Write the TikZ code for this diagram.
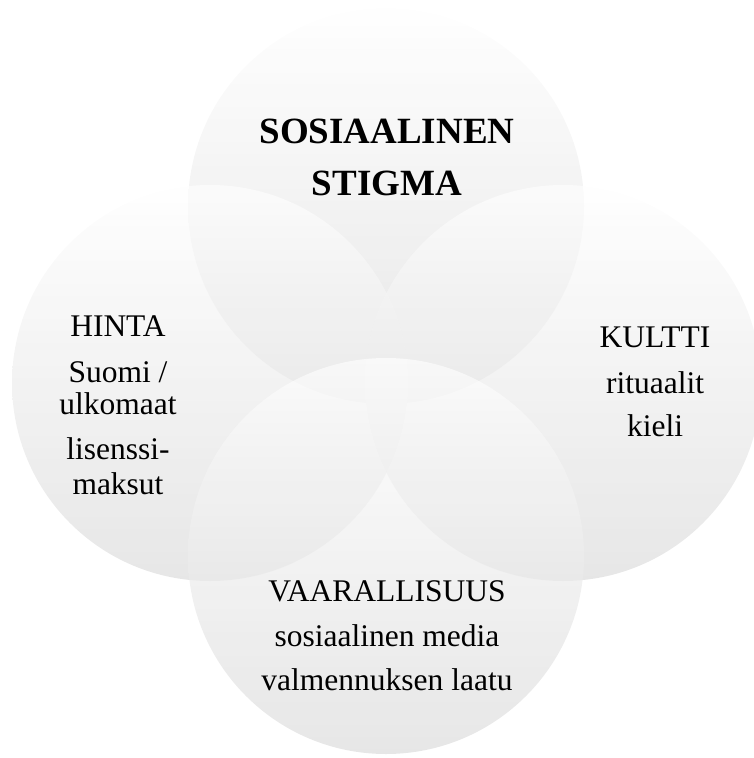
\documentclass[tikz,border=0pt]{standalone}
\usepackage{fontspec}
\setmainfont{Liberation Serif}
\definecolor{ringtop}{RGB}{254,254,254}
\definecolor{ringbot}{RGB}{220,220,220}
\begin{document}
\begin{tikzpicture}[x=1pt,y=-1pt,
  ring/.style={circle, inner sep=0pt, minimum size=396pt,
    top color=ringtop, bottom color=ringbot, fill opacity=0.7, draw=none},
  title/.style={anchor=base, font=\fontsize{37}{44}\selectfont\bfseries},
  label/.style={anchor=base, font=\fontsize{31.5}{38}\selectfont}]
  \useasboundingbox (0,0) rectangle (753,758);
  % four overlapping circles
  \node[ring] (top)    at (386,206) {};
  \node[ring] (left)   at (210,383) {};
  \node[ring] (right)  at (563,383) {};
  \node[ring] (bottom) at (386,556) {};
  % top circle
  \node[title] (t1) at (387,143) {SOSIAALINEN};
  \node[title] (t2) at (387,195) {STIGMA};
  % left circle
  \node[label] (l1) at (118,336) {HINTA};
  \node[label] (l2) at (118,382) {Suomi /};
  \node[label] (l3) at (118,414) {ulkomaat};
  \node[label] (l4) at (118,459) {lisenssi-};
  \node[label] (l5) at (118,494) {maksut};
  % right circle
  \node[label] (r1) at (655,347) {KULTTI};
  \node[label] (r2) at (655,393) {rituaalit};
  \node[label] (r3) at (655,436) {kieli};
  % bottom circle
  \node[label] (b1) at (387,601) {VAARALLISUUS};
  \node[label] (b2) at (387,646) {sosiaalinen media};
  \node[label] (b3) at (387,690) {valmennuksen laatu};
\end{tikzpicture}
\end{document}
